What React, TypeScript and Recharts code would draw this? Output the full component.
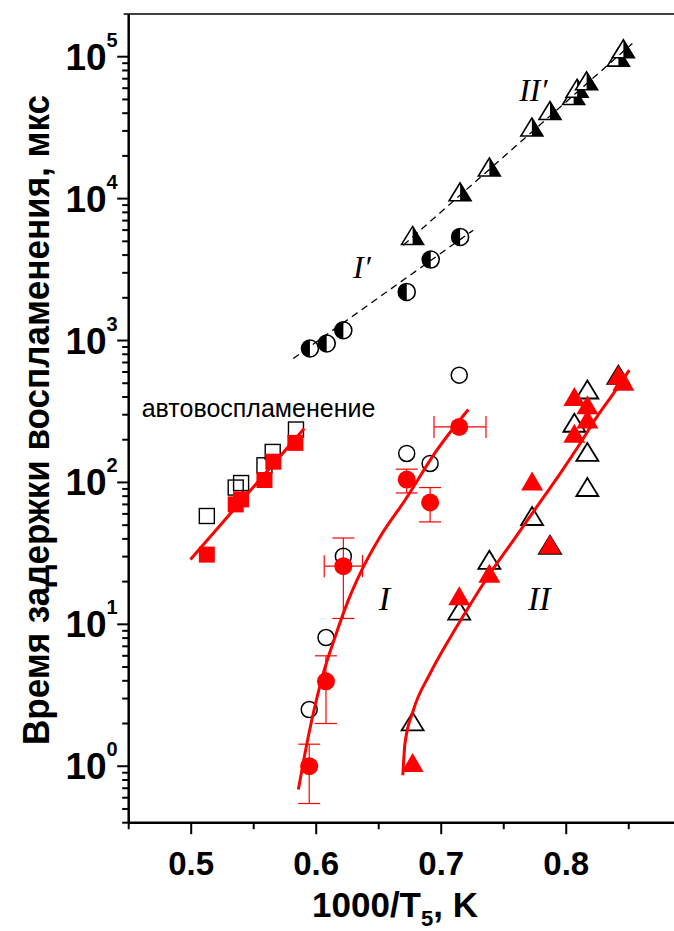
import React from 'react';
import { ComposedChart, Scatter, XAxis, YAxis, ErrorBar, ReferenceDot } from 'recharts';

// ---------------- data ----------------
// auto-ignition (squares)
const autoOpenX = [0.5125, 0.5356, 0.5399, 0.5586, 0.5652, 0.5838];
const autoOpenY = [58, 92, 99, 132, 164, 236];
const autoRedX = [0.5125, 0.5356, 0.5399, 0.5586, 0.5657, 0.5833];
const autoRedY = [31, 70, 76, 104, 140, 190];
const autoFitX = [0.4994, 0.5904];
const autoFitY = [28.6, 240];

// series I (circles)
const iOpenX = [0.5944, 0.6078, 0.6217, 0.6724, 0.6911, 0.7144];
const iOpenY = [2.51, 8.07, 30.2, 160, 136, 570];
const iRedX = [0.5944, 0.6078, 0.6217, 0.6724, 0.6911, 0.7144];
const iRedY = [1.0, 3.97, 25.7, 104.8, 72.2, 246];
const iYErrX = [0.5944, 0.6078, 0.6217, 0.6724, 0.6911];
const iYErrY = [1.0, 3.97, 25.7, 104.8, 72.2];
const iYErrLow = [0.454, 1.97, 14.7, 20.5, 19.5];
const iYErrHigh = [0.43, 2.03, 14.9, 19.2, 19.8];
const iXErrX = [0.6217, 0.7144];
const iXErrY = [25.7, 246];
const iXErrLow = [0.0153, 0.0202];
const iXErrHigh = [0.0153, 0.0214];
const iFitX = [0.5857, 0.591, 0.5976, 0.6056, 0.6151, 0.6257, 0.6377, 0.651, 0.671, 0.6965, 0.7217];
const iFitY = [0.685, 1.229, 2.352, 4.5, 8.15, 14.8, 25.4, 41.3, 74.9, 168.6, 326.4];

// series II (triangles)
const iiOpenX = [0.6771, 0.7144, 0.7385, 0.7727, 0.787, 0.8169, 0.8169, 0.8065, 0.8169, 0.8417];
const iiOpenY = [2.02, 12.2, 27.8, 56.6, 35.5, 90.6, 160, 257, 441, 560];
const iiRedX = [0.6771, 0.7144, 0.7385, 0.7727, 0.787, 0.8065, 0.8065, 0.8169, 0.8169, 0.8417, 0.8457];
const iiRedY = [1.03, 15.4, 22.2, 99.2, 35.5, 215, 390, 341, 271, 554, 500];
const iiFitX = [0.6693, 0.671, 0.6777, 0.6911, 0.7044, 0.7204, 0.739, 0.7577, 0.7764, 0.7951, 0.8111, 0.8245, 0.8377, 0.8504];
const iiFitY = [0.864, 1.445, 2.48, 4.5, 7.32, 12.57, 22.8, 39.1, 67.2, 115.5, 188, 289.5, 423, 617.7];

// series I' (half-filled circles)
const ipX = [0.595, 0.6084, 0.6217, 0.6724, 0.6916, 0.7151];
const ipY = [879, 953, 1182, 2200, 3720, 5370];
const ipFitX = [0.5816, 0.7256];
const ipFitY = [747, 5990];

// series II' (half-filled triangles)
const iipX = [0.6771, 0.7151, 0.7385, 0.7725, 0.787, 0.8059, 0.8087, 0.8163, 0.8417, 0.8457];
const iipY = [5370, 10900, 16300, 31200, 40800, 52000, 58500, 66000, 97000, 111000];
const iipFitX = [0.6697, 0.8529];
const iipFitY = [4700, 124000];

// axes
const xTicks = [0.45, 0.5, 0.55, 0.6, 0.65, 0.7, 0.75, 0.8, 0.85];
const yMajor = [1, 10, 100, 1000, 10000, 100000];
const yMinor = [
  0.4, 0.5, 0.6, 0.7, 0.8, 0.9,
  2, 3, 4, 5, 6, 7, 8, 9,
  20, 30, 40, 50, 60, 70, 80, 90,
  200, 300, 400, 500, 600, 700, 800, 900,
  2000, 3000, 4000, 5000, 6000, 7000, 8000, 9000,
  20000, 30000, 40000, 50000, 60000, 70000, 80000, 90000,
];

const zip = (xs: number[], ys: number[]) => xs.map((x, i) => ({ x, y: ys[i] }));
const autoOpen = zip(autoOpenX, autoOpenY);
const autoRed = zip(autoRedX, autoRedY);
const autoFit = zip(autoFitX, autoFitY);
const iOpen = zip(iOpenX, iOpenY);
const iRed = zip(iRedX, iRedY);
const iYErr = iYErrX.map((x, i) => ({ x, y: iYErrY[i], e: [iYErrLow[i], iYErrHigh[i]] }));
const iXErr = iXErrX.map((x, i) => ({ x, y: iXErrY[i], e: [iXErrLow[i], iXErrHigh[i]] }));
const iFit = zip(iFitX, iFitY);
const iiOpen = zip(iiOpenX, iiOpenY);
const iiRed = zip(iiRedX, iiRedY);
const iiFit = zip(iiFitX, iiFitY);
const ip = zip(ipX, ipY);
const ipFit = zip(ipFitX, ipFitY);
const iip = zip(iipX, iipY);
const iipFit = zip(iipFitX, iipFitY);
const yTicks = [...yMinor, ...yMajor].sort((a, b) => a - b);

const RED = '#ff0000';
const SANS = 'Liberation Sans, Arial, sans-serif';
const SERIF = 'Liberation Serif, Times New Roman, serif';

// ---------------- shapes ----------------
const None = () => null;
const OpenCircle = (p: any) => <circle cx={p.cx} cy={p.cy} r={8} fill="none" stroke="#000" strokeWidth={1.5} />;
const RedCircle = (p: any) => <circle cx={p.cx} cy={p.cy} r={9} fill={RED} />;
const OpenSquare = (p: any) => (
  <rect x={p.cx - 7.5} y={p.cy - 7.5} width={15} height={15} fill="none" stroke="#000" strokeWidth={1.4} />
);
const RedSquare = (p: any) => <rect x={p.cx - 8} y={p.cy - 8} width={16} height={16} fill={RED} />;
const OpenTri = (p: any) => (
  <polygon
    points={`${p.cx},${p.cy - 10.5} ${p.cx + 11},${p.cy + 7.5} ${p.cx - 11},${p.cy + 7.5}`}
    fill="none"
    stroke="#000"
    strokeWidth={1.8}
  />
);
const RedTri = (p: any) => (
  <polygon points={`${p.cx},${p.cy - 11.5} ${p.cx + 11},${p.cy + 7.5} ${p.cx - 11},${p.cy + 7.5}`} fill={RED} />
);
const HalfCircle = (p: any) => (
  <g>
    <circle cx={p.cx} cy={p.cy} r={8.5} fill="#fff" stroke="#000" strokeWidth={1.6} />
    <path d={`M ${p.cx} ${p.cy - 8.5} A 8.5 8.5 0 0 0 ${p.cx} ${p.cy + 8.5} Z`} fill="#000" />
  </g>
);
const HalfTri = (p: any) => (
  <g>
    <polygon
      points={`${p.cx},${p.cy - 10.5} ${p.cx + 11},${p.cy + 7.5} ${p.cx - 11},${p.cy + 7.5}`}
      fill="#fff"
      stroke="#000"
      strokeWidth={1.6}
    />
    <polygon points={`${p.cx},${p.cy - 10.5} ${p.cx + 11},${p.cy + 7.5} ${p.cx},${p.cy + 7.5}`} fill="#000" />
  </g>
);

// ---------------- ticks ----------------
const YTick = (props: any) => {
  const { x, y, payload } = props;
  const v = payload.value;
  const lg = Math.log10(v);
  const exp = Math.round(lg);
  const major = Math.abs(lg - exp) < 1e-6;
  return (
    <g>
      <line x1={x - (major ? 11.5 : 6.5)} x2={x} y1={y} y2={y} stroke="#000" strokeWidth={2} />
      {major && (
        <text x={x - 11} y={y + 13} textAnchor="end" fontFamily={SANS} fontWeight="bold" fontSize={37} fill="#000">
          10
          <tspan fontSize={20} dy={-23}>
            {exp}
          </tspan>
        </text>
      )}
    </g>
  );
};

const XTick = (props: any) => {
  const { x, y, payload } = props;
  const v = payload.value;
  const major = Math.abs(v * 10 - Math.round(v * 10)) < 1e-6;
  return (
    <g>
      <line x1={x} x2={x} y1={y} y2={y + (major ? 11.5 : 6.5)} stroke="#000" strokeWidth={2} />
      {major && (
        <text x={x} y={y + 52} textAnchor="middle" fontFamily={SANS} fontWeight="bold" fontSize={33} fill="#000">
          {v.toFixed(1)}
        </text>
      )}
    </g>
  );
};

const YTitle = () => (
  <text
    transform="translate(49,420) rotate(-90)"
    textAnchor="middle"
    fontFamily={SANS}
    fontWeight="bold"
    fontSize={37}
    textLength={650}
    lengthAdjust="spacingAndGlyphs"
    fill="#000"
  >
    Время задержки воспламенения, мкс
  </text>
);

const XTitle = () => (
  <text x={395} y={917} textAnchor="middle" fontFamily={SANS} fontWeight="bold" fontSize={35} fill="#000">
    1000/T
    <tspan fontSize={22} dy={9}>
      5
    </tspan>
    <tspan dy={-9}>, K</tspan>
  </text>
);

const makeLabel = (txt: string, size: number, italic: boolean, anchor: string, baseline: string) => (p: any) => (
  <text
    x={p.cx}
    y={p.cy}
    textAnchor={anchor}
    dominantBaseline={baseline}
    fontFamily={italic ? SERIF : SANS}
    fontStyle={italic ? 'italic' : 'normal'}
    fontSize={size}
    fill="#000"
  >
    {txt}
  </text>
);

export default function App() {
  return (
    <div style={{ position: 'absolute', left: 0, top: 0, background: '#fff' }}>
      <ComposedChart width={674} height={931} margin={{ top: 14, right: 0, bottom: 0, left: 0 }}>
        <XAxis
          type="number"
          dataKey="x"
          domain={[0.45, 0.8862]}
          allowDataOverflow
          ticks={xTicks}
          interval={0}
          tick={<XTick />}
          tickLine={false}
          tickSize={0}
          tickMargin={0}
          axisLine={{ stroke: '#000', strokeWidth: 2.5 }}
          height={108.3}
          label={<XTitle />}
        />
        <YAxis
          type="number"
          dataKey="y"
          scale="log"
          domain={[0.4, 200000]}
          allowDataOverflow
          ticks={yTicks}
          interval={0}
          tick={<YTick />}
          tickLine={false}
          tickSize={0}
          tickMargin={0}
          axisLine={{ stroke: '#000', strokeWidth: 2.5 }}
          width={128.7}
          label={<YTitle />}
        />
        <ReferenceDot x={0.4604} y={200000} r={0} ifOverflow="visible" shape={(p: any) => (
          <line x1={p.cx - 18} x2={674} y1={p.cy} y2={p.cy} stroke="#000" strokeWidth={1.5} />
        )} />

        {/* open markers first */}
        <Scatter data={autoOpen} shape={OpenSquare} isAnimationActive={false} />
        <Scatter data={autoRed} shape={RedSquare} isAnimationActive={false} />
        <Scatter data={iOpen} shape={OpenCircle} isAnimationActive={false} />
        <Scatter data={iYErr} shape={None} isAnimationActive={false}>
          <ErrorBar dataKey="e" direction="y" width={11} stroke={RED} strokeWidth={1.2} isAnimationActive={false} />
        </Scatter>
        <Scatter data={iXErr} shape={None} isAnimationActive={false}>
          <ErrorBar dataKey="e" direction="x" width={11} stroke={RED} strokeWidth={1.2} isAnimationActive={false} />
        </Scatter>
        <Scatter data={iRed} shape={RedCircle} isAnimationActive={false} />
        <Scatter data={iiOpen} shape={OpenTri} isAnimationActive={false} />
        <Scatter data={iiRed} shape={RedTri} isAnimationActive={false} />
        <Scatter data={ip} shape={HalfCircle} isAnimationActive={false} />
        <Scatter data={iip} shape={HalfTri} isAnimationActive={false} />

        {/* fitted lines */}
        <Scatter data={autoFit} shape={None} line={{ stroke: RED, strokeWidth: 3 }} isAnimationActive={false} />
        <Scatter data={iFit} shape={None} line={{ stroke: RED, strokeWidth: 3 }} lineJointType="monotoneX" isAnimationActive={false} />
        <Scatter data={iiFit} shape={None} line={{ stroke: RED, strokeWidth: 3 }} lineJointType="monotoneX" isAnimationActive={false} />
        <Scatter data={ipFit} shape={None} line={{ stroke: '#000', strokeWidth: 1.3, strokeDasharray: '7 5' }} isAnimationActive={false} />
        <Scatter data={iipFit} shape={None} line={{ stroke: '#000', strokeWidth: 1.3, strokeDasharray: '7 5' }} isAnimationActive={false} />

        {/* annotations */}
        <ReferenceDot x={0.4604} y={289.5} r={0} shape={makeLabel('автовоспламенение', 25, false, 'start', 'auto')} />
        <ReferenceDot x={0.6546} y={15.2} r={0} shape={makeLabel('I', 34, true, 'middle', 'central')} />
        <ReferenceDot x={0.7785} y={15.2} r={0} shape={makeLabel('II', 34, true, 'middle', 'central')} />
        <ReferenceDot x={0.6365} y={3300} r={0} shape={makeLabel('I′', 32, true, 'middle', 'central')} />
        <ReferenceDot x={0.7737} y={58000} r={0} shape={makeLabel('II′', 32, true, 'middle', 'central')} />
      </ComposedChart>
    </div>
  );
}
